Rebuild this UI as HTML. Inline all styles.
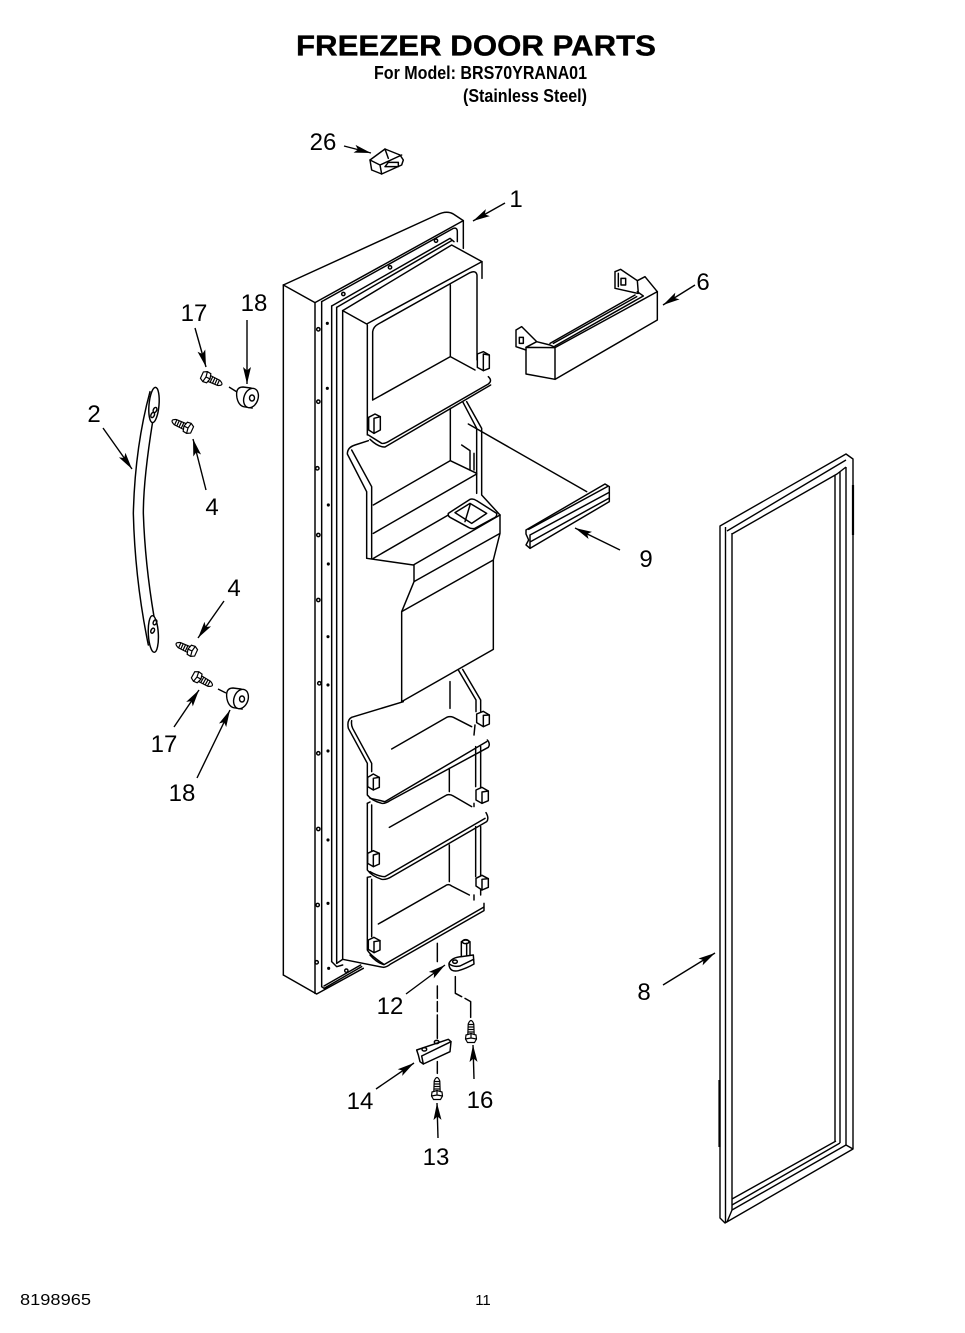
<!DOCTYPE html>
<html><head><meta charset="utf-8"><style>
html,body{margin:0;padding:0;background:#fff;width:965px;height:1333px;overflow:hidden}
svg{display:block}
text{font-family:"Liberation Sans",sans-serif;fill:#000}
.n{font-size:24px;text-anchor:middle}
.z{fill:none;stroke:#000;stroke-width:4.4;stroke-linejoin:round;stroke-linecap:round}
.a{fill:none;stroke:#000;stroke-width:1.4}
.w{fill:#fff}
</style></head><body>
<svg width="965" height="1333" viewBox="0 0 965 1333" xmlns="http://www.w3.org/2000/svg">
<defs>
<marker id="h" markerUnits="userSpaceOnUse" markerWidth="18" markerHeight="9" refX="17" refY="4.5" orient="auto"><path d="M0,0.5L17,4.500L0,8.500L3.500,4.500Z" fill="#000"/></marker>
<g id="s" fill="#fff" stroke="#000" stroke-width="1.2"><path d="M3,-3.200L14,-2.800Q21,0 14,2.800L3,3.200Z"/><path d="M6,-3.200V3.200M8.500,-3V3M11,-3V3M13.500,-2.800V2.800" fill="none"/><path d="M-4.500,-3.500L-1,-5.500L3,-5L4.500,0L3,5L-1,5.500L-4.500,3.500Z"/><path d="M-1,-5.500L0,0L-1,5.500M0,0L4.500,0" fill="none"/></g>
</defs>
<rect width="965" height="1333" fill="#fff"/>

<!-- titles -->
<text x="296" y="55.500" font-size="28.500" font-weight="700" stroke="#000" stroke-width=".35" textLength="360" lengthAdjust="spacingAndGlyphs">FREEZER DOOR PARTS</text>
<text x="374" y="79" font-size="18" font-weight="700" textLength="213" lengthAdjust="spacingAndGlyphs">For Model: BRS70YRANA01</text>
<text x="463" y="102" font-size="18" font-weight="700" textLength="124" lengthAdjust="spacingAndGlyphs">(Stainless Steel)</text>
<text x="20" y="1305" font-size="16" textLength="71" lengthAdjust="spacingAndGlyphs">8198965</text>
<text x="483" y="1305" font-size="15" text-anchor="middle">11</text>

<!-- door upper, zoom-1 coordinates -->
<g class="z" transform="translate(270,200) scale(.33333)">
<path d="M40,255L500,45Q530,30 550,42L580,62V145"/>
<path d="M40,255L135,308L580,62"/>
<path d="M155,305L550,85Q562,82 562,95V125"/>
<path d="M185,318L540,115L552,125"/>
<path d="M200,322L545,122"/>
<path d="M218,332L545,135L636,185V235"/>
<path d="M40,255V2325M135,308V2380M155,305V2360M185,318V2285M200,322V2290M218,332V2278"/>
<!-- top bin -->
<path d="M218,332L290,372L636,185"/>
<path d="M292,375V705M308,395V600M308,395Q310,380 325,372L600,218Q618,210 621,225V480"/>
<path d="M541,255V470L308,600M541,470L615,510"/>
<path d="M295,705L335,730Q345,732 360,722L655,552Q668,542 655,530"/>
<path d="M300,718Q325,742 345,741L662,555"/>
<path class="w" d="M296,652L315,642L331,650V690L312,700L296,690Z"/><path d="M312,655L331,650M312,655V700"/>
<path class="w" d="M622,462L640,455L658,465V505L640,512L622,502Z"/><path d="M640,462L658,465M640,462V512"/>
<!-- dispenser recess -->
<path d="M295,722L255,735Q232,742 232,762L290,875V1075L430,1095L690,945"/>
<path d="M245,750L305,860V1075"/>
<path d="M310,915L541,782L620,820M310,1000L620,822M310,1075L535,945"/>
<path d="M541,625V782M578,605L620,685V880M590,605L635,685V885L690,945"/>
<path d="M575,735L600,752V810M612,760V810"/>
<path d="M535,940L600,898Q610,895 620,902L680,940Q682,950 670,955L615,985Q605,988 595,982L540,952Q533,948 535,940Z"/>
<path d="M555,938L600,910L650,940L605,970Z M600,915L585,965"/>
<path d="M690,945V1000L670,1080V1348M432,1095V1145L690,1000M432,1145L395,1235V1505M395,1235L670,1080M395,1505L670,1348"/>
<!-- holes -->
<g><circle cx="145" cy="388" r="5"/><circle cx="145" cy="605" r="5"/><circle cx="142" cy="805" r="5"/><circle cx="145" cy="1005" r="5"/><circle cx="145" cy="1200" r="5"/><circle cx="148" cy="1450" r="5"/><circle cx="145" cy="1660" r="5"/><circle cx="145" cy="1887" r="5"/><circle cx="143" cy="2115" r="5"/><circle cx="140" cy="2287" r="5"/>
<circle cx="220" cy="282" r="5"/><circle cx="360" cy="202" r="5"/><circle cx="498" cy="122" r="5"/><circle cx="229" cy="2312" r="5"/></g>
<g fill="#000"><circle cx="172" cy="370" r="2.500"/><circle cx="172" cy="565" r="2.500"/><circle cx="175" cy="915" r="2.500"/><circle cx="175" cy="1092" r="2.500"/><circle cx="174" cy="1310" r="2.500"/><circle cx="174" cy="1455" r="2.500"/><circle cx="174" cy="1653" r="2.500"/><circle cx="174" cy="1920" r="2.500"/><circle cx="174" cy="2110" r="2.500"/><circle cx="176" cy="2305" r="2.500"/></g>
<!-- bar 9 -->
<path d="M595,672L950,875"/>
<path class="w" d="M768,990L1005,852L1018,860V905L780,1045L768,1035L776,1020L768,1002Z"/>
<path d="M776,988L1012,860M780,1005L1016,878M780,1026L1016,895M780,1005V1045"/>
</g>

<!-- door lower, zoom-2 coordinates -->
<g class="z" transform="translate(270,590) scale(.33333)">
<path d="M40,1155L140,1212L280,1135M135,1208V1210M155,1190L162,1195L275,1130M162,1188L272,1125"/>
<path d="M185,1115L200,1130L218,1125M200,1120L218,1108L340,1132Q350,1132 362,1122L642,962V940"/>
<path d="M300,1095Q320,1118 342,1124L640,952"/>
<!-- shelf 1 -->
<path d="M400,335L245,382Q230,390 235,415L292,520V615Q305,632 335,640Q345,642 360,632L655,472Q662,462 652,450"/>
<path d="M245,392Q243,405 248,415L305,520V545M300,625Q325,630 345,635L650,455"/>
<path d="M365,477L530,382Q540,378 550,382L605,410M540,275V355M565,240L618,330V365M578,238L632,330V365M615,405L612,435"/>
<!-- shelf 2 -->
<path d="M292,640V840Q305,858 335,868Q350,870 365,860L650,695Q658,685 648,668M305,645V785M300,845Q325,860 345,860L645,685"/>
<path d="M292,640L300,636"/>
<path d="M358,712L530,615Q540,612 550,618L605,650M538,535V605M617,470V590M632,470V595M612,640V650"/>
<!-- shelf 3 -->
<path d="M292,862V1080Q300,1095 340,1122M305,868V1040M292,862L302,860"/>
<path d="M325,1002L525,888Q535,880 545,888L598,915M538,765V875M617,710V860M632,710V860M632,895V915M612,915V930"/>
<!-- clips -->
<path class="w" d="M293,562L310,552L328,562V592L310,600L293,590Z"/><path d="M310,565L328,562M310,565V600"/>
<path class="w" d="M620,372L640,364L658,375V402L640,410L620,398Z"/><path d="M640,376L658,375M640,376V410"/>
<path class="w" d="M293,790L310,782L328,790V822L310,830L293,820Z"/><path d="M310,795L328,790M310,795V830"/>
<path class="w" d="M618,600L636,592L655,603V632L636,640L618,630Z"/><path d="M636,606L655,603M636,606V640"/>
<path class="w" d="M295,1050L312,1042L330,1052V1080L312,1088L295,1078Z"/><path d="M312,1055L330,1052M312,1055V1088"/>
<path class="w" d="M618,865L636,856L655,866V892L636,900L618,888Z"/><path d="M636,868L655,866M636,868V900"/>
<!-- hinge -->
<path class="w" d="M574,1105V1055Q587,1045 600,1055V1105Z"/><ellipse cx="587" cy="1055" rx="10" ry="6"/><path d="M590,1060V1100"/>
<path class="w" d="M537,1120Q545,1102 575,1100L610,1095L612,1122Q590,1135 565,1142Q540,1147 537,1125Z"/>
<path d="M538,1122Q550,1132 570,1128L611,1108"/>
<ellipse cx="555" cy="1115" rx="7" ry="5"/>
</g>

<!-- bar 6 -->
<g class="z" transform="translate(500,260) scale(.33333)">
<path d="M48,210V260L78,270M48,210L65,200L110,245L78,262"/>
<path d="M58,232H70V250H58Z M363,55H377V75H363Z"/>
<path d="M78,262V342L165,358L472,180V95L165,263L78,262M165,263V358"/>
<path d="M110,245L150,255L165,262M160,250L410,110M150,250L405,105M165,258L430,108L412,95"/>
<path d="M345,35V85L412,100M345,35L362,28L412,62L435,50L472,95M412,62L415,100M355,40V80"/>
</g>

<!-- handle 2 -->
<g class="z" transform="translate(80,280) scale(.33333)">
<path d="M210,335Q165,500 160,700Q165,900 205,1095"/>
<path d="M218,425Q190,600 190,700Q195,850 222,1010"/>
<ellipse class="w" cx="222" cy="375" rx="15" ry="53" transform="rotate(5 222 375)"/>
<ellipse class="w" cx="220" cy="1062" rx="15" ry="55" transform="rotate(-3 220 1062)"/>
<ellipse cx="225" cy="390" rx="5" ry="8" transform="rotate(25 225 390)"/><ellipse cx="218" cy="405" rx="5" ry="8" transform="rotate(25 218 405)"/>
<ellipse cx="225" cy="1027" rx="5" ry="8" transform="rotate(25 225 1027)"/><ellipse cx="218" cy="1052" rx="5" ry="8" transform="rotate(25 218 1052)"/>
</g>

<!-- gasket 8 -->
<g fill="none" stroke="#000" stroke-width="1.4" stroke-linejoin="round">
<path d="M720,526L846,454L853,459V1149L725,1223L720,1218Z"/>
<path d="M725.500,527V1222M732,533V1210M727,531L846,460M732,534L837,474L846,467M835,475V1141M840,472V1143M846,467V1145"/>
<path d="M732,1199L836,1141M732,1205L840,1143M732,1210L846,1145L853,1149M732,1210L727,1222"/>
<path d="M853,485V535M719.500,1080V1147" stroke-width="2.200"/>
</g>

<!-- screws -->
<use href="#s" transform="translate(206,377) rotate(25)"/>
<use href="#s" transform="translate(188,428) rotate(205)"/>
<use href="#s" transform="translate(192,651) rotate(205)"/>
<use href="#s" transform="translate(197,677) rotate(29)"/>
<use href="#s" transform="translate(437,1095) rotate(-90)"/>
<use href="#s" transform="translate(471,1038) rotate(-90)"/>
<path class="a" d="M229,387L237,392M218,689L226,693"/>

<!-- spacers 18 -->
<g fill="#fff" stroke="#000" stroke-width="1.400">
<path d="M243,387Q235,387 237,398Q239,407 246,407L252,408L251,388Z"/>
<ellipse cx="251" cy="398" rx="7" ry="10" transform="rotate(20 251 398)"/><ellipse cx="252" cy="398" rx="2.500" ry="3"/>
<path d="M233,688Q225,688 227,699Q229,708 236,708L242,709L241,689Z"/>
<ellipse cx="241" cy="699" rx="7" ry="10" transform="rotate(20 241 699)"/><ellipse cx="242" cy="699" rx="2.500" ry="3"/>
</g>

<!-- connector 26 -->
<g class="z" transform="translate(290,25) scale(.33333)">
<path class="w" d="M240,405L285,372L330,390L340,405L335,420L275,447L245,435Z"/>
<path d="M240,405L270,420L275,447M270,420L335,390M285,372L295,400M285,425H325V412H295Z"/>
</g>

<!-- lower dash lines and bracket, zoom-5 coordinates -->
<g class="z" transform="translate(400,930) scale(.33333)">
<path d="M112,40V95M112,168V205M112,215V245M112,255V325M112,395V430"/>
<path d="M166,140V190L185,200M195,205L212,215V262"/>
</g>
<g class="z" transform="translate(340,1020) scale(.33333)">
<path class="w" d="M230,90L325,58L333,65L330,95L250,132L240,125L235,105Z"/>
<path d="M245,108L333,65M250,132L245,108"/>
<ellipse cx="253" cy="88" rx="7" ry="5"/><ellipse cx="290" cy="66" rx="7" ry="5"/>
</g>

<!-- arrows -->
<g stroke="#000" stroke-width="1.400" fill="none">
<path d="M344,146L371,153" marker-end="url(#h)"/>
<path d="M505,203L473,221" marker-end="url(#h)"/>
<path d="M695,285L663,305" marker-end="url(#h)"/>
<path d="M195,328L206,367" marker-end="url(#h)"/>
<path d="M247,320L247,384" marker-end="url(#h)"/>
<path d="M103,428L132,469" marker-end="url(#h)"/>
<path d="M206,490L193,439" marker-end="url(#h)"/>
<path d="M224,601L198,638" marker-end="url(#h)"/>
<path d="M174,727L199,690" marker-end="url(#h)"/>
<path d="M197,778L230,710" marker-end="url(#h)"/>
<path d="M620,550L575,528" marker-end="url(#h)"/>
<path d="M663,985L715,953" marker-end="url(#h)"/>
<path d="M406,994L445,965" marker-end="url(#h)"/>
<path d="M376,1089L414,1063" marker-end="url(#h)"/>
<path d="M474,1079L473,1045" marker-end="url(#h)"/>
<path d="M438,1138L437,1103" marker-end="url(#h)"/>
</g>

<!-- labels -->
<text class="n" x="323" y="150">26</text>
<text class="n" x="516" y="207">1</text>
<text class="n" x="703" y="290">6</text>
<text class="n" x="194" y="321">17</text>
<text class="n" x="254" y="311">18</text>
<text class="n" x="94" y="422">2</text>
<text class="n" x="212" y="515">4</text>
<text class="n" x="234" y="596">4</text>
<text class="n" x="164" y="752">17</text>
<text class="n" x="182" y="801">18</text>
<text class="n" x="646" y="567">9</text>
<text class="n" x="644" y="1000">8</text>
<text class="n" x="390" y="1014">12</text>
<text class="n" x="360" y="1109">14</text>
<text class="n" x="480" y="1108">16</text>
<text class="n" x="436" y="1165">13</text>
</svg>
</body></html>
